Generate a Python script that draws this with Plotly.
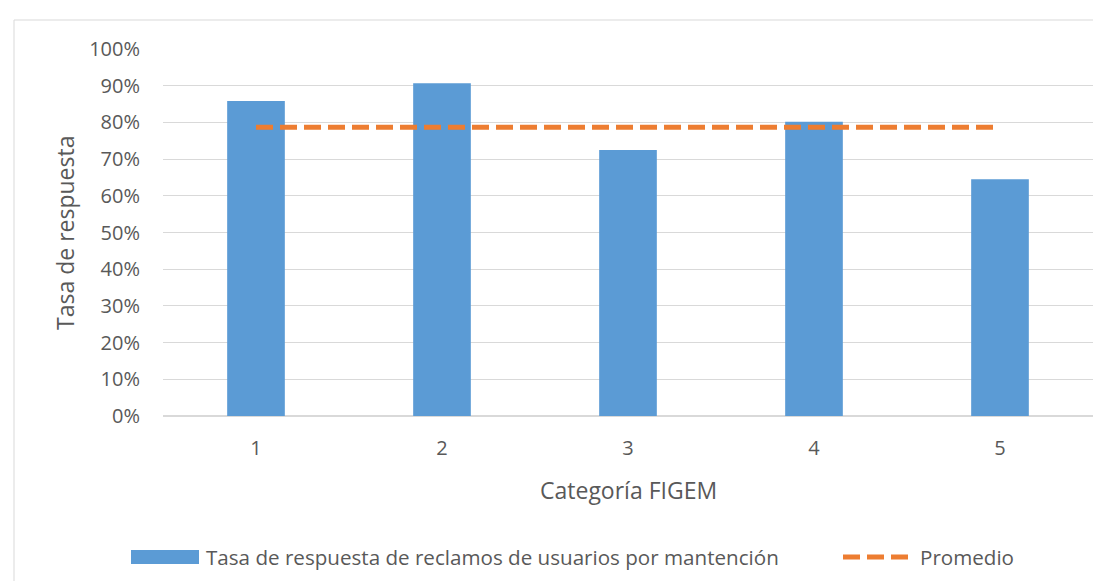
import plotly.graph_objects as go

categorias = ["1", "2", "3", "4", "5"]
tasa_respuesta = [0.858, 0.907, 0.725, 0.802, 0.645]
promedio = [0.787, 0.787, 0.787, 0.787, 0.787]
y_ticks = [0, 0.1, 0.2, 0.3, 0.4, 0.5, 0.6, 0.7, 0.8, 0.9, 1.0]

serie_barras = "Tasa de respuesta de reclamos de usuarios por mantención"
serie_linea = "Promedio"

W, H = 1101, 581
L, R, T, B = 155, 16, 41, 173
PW, PH = W - L - R, H - T - B

def px(x):
    return (x - L) / PW

def py(y):
    return (H - B - y) / PH

FONT = "'Open Sans', Lato, sans-serif"
TXT = "#595959"
BLUE = "#5B9BD5"
ORANGE = "#ED7D31"
GRID = "#D9D9D9"
DASH = "17px,7px"

fig = go.Figure()
fig.add_trace(go.Bar(x=categorias, y=tasa_respuesta, marker=dict(color=BLUE, line=dict(width=0)),
                     name=serie_barras, showlegend=False))
fig.add_trace(go.Scatter(x=categorias, y=promedio, mode="lines",
                         line=dict(color=ORANGE, width=5, dash=DASH),
                         name=serie_linea, showlegend=False))

fig.update_layout(
    width=W, height=H,
    margin=dict(l=L, r=R, t=T, b=B, pad=0),
    paper_bgcolor="white", plot_bgcolor="white",
    font=dict(family=FONT, color=TXT, size=20),
    bargap=0.69,
    xaxis=dict(type="category", showgrid=False, showline=False, zeroline=False,
               ticks="", ticklabelstandoff=18, tickfont=dict(size=20, color=TXT)),
    yaxis=dict(range=[0, 1.0], tickvals=y_ticks, tickformat=".0%", showgrid=True,
               gridcolor=GRID, gridwidth=1, zeroline=True, zerolinecolor=GRID, zerolinewidth=1.5,
               showline=False, ticks="", ticklabelstandoff=22, tickfont=dict(size=20, color=TXT)),
    annotations=[
        dict(text="Tasa de respuesta", textangle=-90, xref="paper", yref="paper",
             x=px(57), y=py(225), showarrow=False, xanchor="center", yanchor="middle",
             font=dict(size=23, color=TXT)),
        dict(text="Categoría FIGEM", xref="paper", yref="paper",
             x=px(620), y=py(482), showarrow=False, xanchor="center", yanchor="middle",
             font=dict(size=23, color=TXT)),
        dict(text=serie_barras, xref="paper", yref="paper",
             x=px(196), y=py(549), showarrow=False, xanchor="left", yanchor="middle",
             font=dict(size=20.6, color=TXT)),
        dict(text=serie_linea, xref="paper", yref="paper",
             x=px(910), y=py(549), showarrow=False, xanchor="left", yanchor="middle",
             font=dict(size=20.6, color=TXT)),
    ],
    shapes=[
        dict(type="rect", xref="paper", yref="paper", x0=px(6), x1=px(1120), y0=py(600), y1=py(12),
             line=dict(color=GRID, width=1), fillcolor="rgba(0,0,0,0)", layer="below"),
        dict(type="rect", xref="paper", yref="paper", x0=px(123), x1=px(191), y0=py(556), y1=py(542),
             line=dict(width=0), fillcolor=BLUE),
        dict(type="line", xref="paper", yref="paper", x0=px(835), x1=px(901), y0=py(549), y1=py(549),
             line=dict(color=ORANGE, width=5, dash=DASH)),
    ],
)

fig.write_html("out.html")
